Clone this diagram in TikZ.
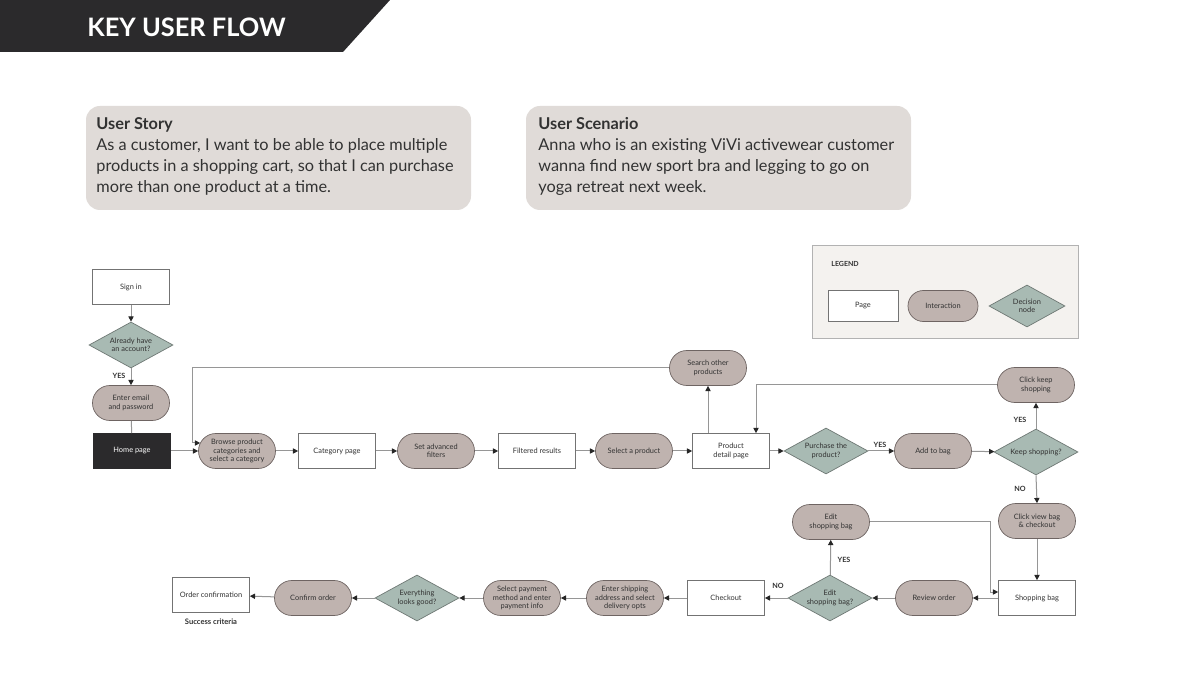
\documentclass[tikz,border=0pt]{standalone}
\usepackage{fontspec}
\setmainfont{Lato}
\usetikzlibrary{shapes.geometric,arrows.meta,calc}
\definecolor{band}{RGB}{43,42,44}
\definecolor{storybg}{RGB}{224,219,216}
\definecolor{interfill}{RGB}{191,179,175}
\definecolor{interdraw}{RGB}{110,100,98}
\definecolor{decfill}{RGB}{168,186,179}
\definecolor{decdraw}{RGB}{110,120,116}
\definecolor{legbg}{RGB}{244,242,239}
\definecolor{txt}{RGB}{50,50,50}
\definecolor{linec}{RGB}{150,150,150}
\tikzset{
  nodetext/.style={font=\fontsize{3.7pt}{4.1pt}\selectfont, text=txt, align=center},
  pagebox/.style={nodetext, draw=black!55, line width=0.35pt, fill=white, minimum width=38.5pt, minimum height=17.5pt, inner sep=0pt},
  homebox/.style={pagebox, fill=band, draw=band, text=white},
  interbox/.style={nodetext, draw=interdraw, line width=0.35pt, fill=interfill, minimum width=38.5pt, minimum height=17.5pt, rounded corners=8.7pt, inner sep=0pt},
  decbox/.style={nodetext, diamond, shape aspect=1.8, draw=decdraw, line width=0.35pt, fill=decfill, minimum width=42pt, minimum height=23pt, inner sep=0pt},
  conn/.style={draw=linec, line width=0.5pt},
  arr/.style={conn, -{Triangle[length=2.6pt,width=2.6pt,color=black!85]}},
  lbl/.style={font=\fontsize{3.6pt}{4pt}\selectfont\bfseries, text=txt, inner sep=0.5pt},
  storybox/.style={fill=storybg, rounded corners=7pt, draw=none},
  storytext/.style={anchor=north west, text=txt, align=left, font=\fontsize{8.15pt}{10.5pt}\selectfont, inner sep=0pt}
}
\begin{document}
\begin{tikzpicture}[x=0.5pt,y=-0.5pt]
\useasboundingbox (0,0) rectangle (1200,678);
\fill[white] (0,0) rectangle (1200,678);
% header band
\fill[band] (0,0) -- (390,0) -- (343,52) -- (0,52) -- cycle;
\node[anchor=west, text=white, font=\fontsize{12.7pt}{15pt}\selectfont\bfseries, inner sep=0pt] (title) at (87,27) {KEY USER FLOW};
% story boxes
\fill[storybox] (86,106) rectangle (471,210);
\node[storytext] (story) at (96,117) {\textbf{User Story}\\As a customer, I want to be able to place multiple\\products in a shopping cart, so that I can purchase\\more than one product at a time.};
\fill[storybox] (526,106) rectangle (911,210);
\node[storytext] (scen) at (538,117) {\textbf{User Scenario}\\Anna who is an existing ViVi activewear customer\\wanna find new sport bra and legging to go on\\yoga retreat next week.};
% legend
\draw[fill=legbg, draw=black!30, line width=0.4pt] (812,245) rectangle (1078,338);
\node[anchor=west, lbl, font=\fontsize{3.5pt}{4pt}\selectfont\bfseries] (legend) at (830,264) {LEGEND};
\node[pagebox, minimum width=35pt, minimum height=15.5pt] (lpage) at (863,306) {Page};
\node[interbox, minimum width=35pt, minimum height=15.5pt, rounded corners=7.7pt] (linter) at (943,306) {Interaction};
\node[decbox, minimum width=38pt, minimum height=21pt] (ldec) at (1027,306) {Decision\\node};
% flow nodes
\node[pagebox] (signin) at (131,287) {Sign in};
\node[decbox] (acct) at (131,345) {Already have\\an account?};
\node[interbox] (email) at (131,403) {Enter email\\and password};
\node[homebox] (home) at (132,451) {Home page};
\node[interbox] (browse) at (237,451) {Browse product\\categories and\\select a category};
\node[pagebox] (cat) at (337,451) {Category page};
\node[interbox] (filters) at (436,451) {Set advanced\\filters};
\node[pagebox] (filtered) at (537,451) {Filtered results};
\node[interbox] (select) at (634,451) {Select a product};
\node[pagebox] (pdp) at (731,451) {Product\\detail page};
\node[decbox] (purchase) at (826,451) {Purchase the\\product?};
\node[interbox] (add) at (933,451) {Add to bag};
\node[decbox] (keep) at (1036,452) {Keep shopping?};
\node[interbox] (clickkeep) at (1036,385) {Click keep\\shopping};
\node[interbox] (search) at (708,368) {Search other\\products};
\node[interbox] (viewbag) at (1037,521) {Click view bag\\\& checkout};
\node[pagebox] (bag) at (1037,598) {Shopping bag};
\node[interbox] (review) at (934,598) {Review order};
\node[decbox] (editq) at (830,598) {Edit\\shopping bag?};
\node[interbox] (editbag) at (831,522) {Edit\\shopping bag};
\node[pagebox] (checkout) at (726,598) {Checkout};
\node[interbox] (ship) at (625,598) {Enter shipping\\address and select\\delivery opts};
\node[interbox] (pay) at (522,598) {Select payment\\method and enter\\payment info};
\node[decbox] (good) at (417,598) {Everything\\looks good?};
\node[interbox] (confirm) at (313,598) {Confirm order};
\node[pagebox] (orderconf) at (211,595) {Order confirmation};
\node[lbl, font=\fontsize{3.8pt}{4.2pt}\selectfont\bfseries] (success) at (211,622) {Success criteria};
% connectors
\draw[arr] (signin) -- (acct);
\draw[arr] (acct) -- (email);
\node[lbl] (yes1) at (119,376) {YES};
\draw[conn] (email) -- (home);
\draw[arr] (home) -- (browse);
\draw[arr] (browse) -- (cat);
\draw[arr] (cat) -- (filters);
\draw[arr] (filters) -- (filtered);
\draw[arr] (filtered) -- (select);
\draw[arr] (select) -- (pdp);
\draw[arr] (pdp) -- (purchase);
\draw[arr] (purchase) -- (add);
\node[lbl] (yes2) at (880,445) {YES};
\draw[arr] (add) -- (keep);
\draw[arr] (pdp.north -| search.south) -- (search.south);
\coordinate (loopl) at (192,443);
\draw[arr] (search.west) -| (loopl) -- ([xshift=1pt]browse.west |- loopl);
\draw[arr] (keep.north) -- (clickkeep.south);
\node[lbl] (yes3) at (1020,420) {YES};
\draw[arr] (clickkeep.west) -| ([xshift=12.5pt]pdp.north);
\draw[arr] (keep.south) -- (viewbag.north);
\node[lbl] (no1) at (1020,489) {NO};
\draw[arr] (viewbag) -- (bag);
\draw[arr] (bag) -- (review);
\draw[arr] (review) -- (editq);
\draw[arr] (editq) -- (editbag);
\node[lbl] (yes4) at (844,560) {YES};
\coordinate (ebr) at (990,592);
\draw[arr] (editbag.east) -| (ebr) -- (ebr -| bag.west);
\draw[arr] (editq) -- (checkout);
\node[lbl] (no2) at (778,586) {NO};
\draw[arr] (checkout) -- (ship);
\draw[arr] (ship) -- (pay);
\draw[arr] (pay) -- (good);
\draw[arr] (good) -- (confirm);
\draw[arr] (confirm) -- (orderconf);
\end{tikzpicture}
\end{document}
